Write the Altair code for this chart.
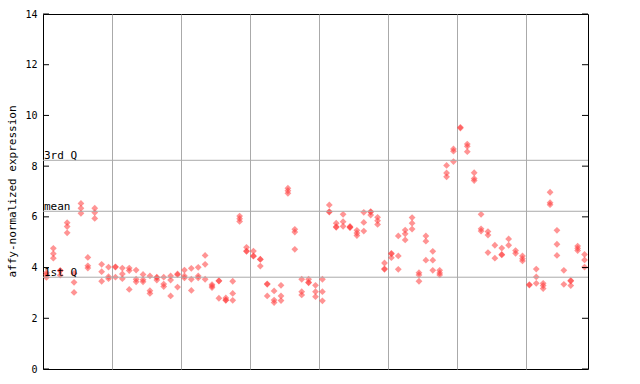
import altair as alt
import pandas as pd

# Expression values per sample (replicates), grouped in blocks of ten samples
group1 = [[3.80, 3.72, 3.61], [4.76, 4.55, 4.37], [3.88, 3.88, 3.70], [5.77, 5.62, 5.37],
          [3.77, 3.42, 3.02], [6.53, 6.34, 6.14], [4.40, 4.07, 3.98], [6.34, 6.17, 5.94],
          [4.13, 3.84, 3.46], [4.02, 3.64, 3.56]]
group2 = [[4.03, 4.02, 3.62], [3.98, 3.75, 3.56], [3.98, 3.88, 3.14], [3.90, 3.54, 3.44],
          [3.73, 3.52, 3.44], [3.67, 3.09, 2.98], [3.62, 3.60, 3.51], [3.62, 3.35, 3.25],
          [3.67, 3.51, 2.88], [3.75, 3.72, 3.23]]
group3 = [[3.90, 3.67, 3.59], [3.97, 3.54, 3.10], [4.01, 3.67, 3.59], [4.48, 4.13, 3.54],
          [3.33, 3.27, 3.21], [3.48, 3.47, 2.79], [2.80, 2.72, 2.71], [3.46, 2.98, 2.71],
          [6.03, 5.93, 5.82], [4.80, 4.65, 4.64]]
group4 = [[4.65, 4.46, 4.45], [4.33, 4.32, 4.06], [3.36, 3.34, 2.88], [3.08, 2.72, 2.62],
          [3.30, 2.88, 2.70], [7.13, 7.03, 6.93], [5.51, 5.40, 4.72], [3.54, 3.05, 2.92],
          [3.54, 3.42, 3.40], [3.30, 3.05, 2.85]]
group5 = [[3.54, 3.05, 2.69], [6.47, 6.21, 6.19], [5.75, 5.61, 5.59], [6.10, 5.81, 5.63],
          [5.62, 5.59, 5.58], [5.47, 5.36, 5.26], [6.18, 5.78, 5.44], [6.21, 6.19, 6.07],
          [5.98, 5.85, 5.70], [4.18, 3.95, 3.93]]
group6 = [[4.56, 4.54, 4.39], [5.25, 4.46, 3.93], [5.48, 5.33, 5.09], [5.97, 5.75, 5.52],
          [3.80, 3.71, 3.46], [5.25, 5.04, 4.29], [4.64, 4.29, 3.89], [3.89, 3.79, 3.71],
          [8.03, 7.73, 7.58], [8.68, 8.59, 8.18]]
group7 = [[9.53, 9.50], [8.87, 8.78, 8.57], [7.74, 7.51, 7.43], [6.10, 5.53, 5.44],
          [5.42, 5.28, 4.59], [4.88, 4.37], [4.77, 4.52, 4.50], [5.13, 4.88],
          [4.67, 4.56], [4.46, 4.35, 4.26]]
group8 = [[3.33, 3.31], [3.94, 3.63, 3.38], [3.38, 3.29, 3.17], [6.97, 6.56, 6.48],
          [5.47, 4.92, 4.48], [3.89, 3.34], [3.49, 3.47, 3.29], [4.85, 4.76, 4.67],
          [4.52, 4.30, 4.02]]

quartile_labels = ["3rd Q", "mean", "1st Q"]
quartile_values = [8.23, 6.22, 3.62]
y_ticks = [0, 2, 4, 6, 8, 10, 12, 14]
group_breaks = [10.5, 20.5, 30.5, 40.5, 50.5, 60.5, 70.5]

rows = []
idx = 0
for grp in [group1, group2, group3, group4, group5, group6, group7, group8]:
    for sample in grp:
        idx += 1
        for v in sample:
            rows.append({"sample": idx, "value": v})
points_df = pd.DataFrame(rows)
n_samples = idx

q_df = pd.DataFrame({"label": quartile_labels, "value": quartile_values})
tick_df = pd.DataFrame({"value": y_ticks})

W, H = 545, 355
FONT = "DejaVu Sans Mono"
GRID = "#aaaaaa"

x_scale = alt.Scale(domain=[0.5, n_samples + 0.5], nice=False, zero=False)
y_scale = alt.Scale(domain=[0, 14], nice=False, zero=True)

y_axis = alt.Axis(values=y_ticks, grid=False, domain=False, tickSize=0,
                  labelFont=FONT, labelFontSize=10, labelColor="black",
                  labelPadding=6, title="affy-normalized expression",
                  titleFont=FONT, titleFontSize=11, titleFontWeight="normal",
                  titleColor="black", titleX=-31, titleY=177,
                  titleAngle=-90, titleAlign="center", titleBaseline="middle")
x_axis = alt.Axis(values=group_breaks, grid=True, gridColor=GRID, gridWidth=1,
                  labels=False, ticks=False, domain=False, title=None)

Y = alt.Y("value:Q", scale=y_scale, axis=y_axis)

points = alt.Chart(points_df).mark_point(
    shape="diamond", filled=True, size=46, color="#ff3c3c", opacity=0.55
).encode(
    x=alt.X("sample:Q", scale=x_scale, axis=x_axis),
    y=Y,
)

q_rules = alt.Chart(q_df).mark_rule(color=GRID, strokeWidth=1).encode(y=Y)

q_text = alt.Chart(q_df).mark_text(
    align="left", baseline="alphabetic", dy=-1, font=FONT, fontSize=11, color="black"
).encode(
    x=alt.value(1),
    y=Y,
    text="label:N",
)

left_ticks = alt.Chart(tick_df).mark_rule(color="black", strokeWidth=1).encode(
    x=alt.value(0), x2=alt.value(6), y=Y,
)
right_ticks = alt.Chart(tick_df).mark_rule(color="black", strokeWidth=1).encode(
    x=alt.value(W - 6), x2=alt.value(W), y=Y,
)

chart = alt.layer(points, q_rules, q_text, left_ticks, right_ticks).properties(
    width=W, height=H,
    autosize=alt.AutoSizeParams(type="none"),
    padding={"left": 43, "top": 14, "right": 52, "bottom": 15},
    background="white",
).configure_view(stroke="black", strokeWidth=1)

chart.save("out.html", embed_options={"renderer": "svg", "actions": False})
